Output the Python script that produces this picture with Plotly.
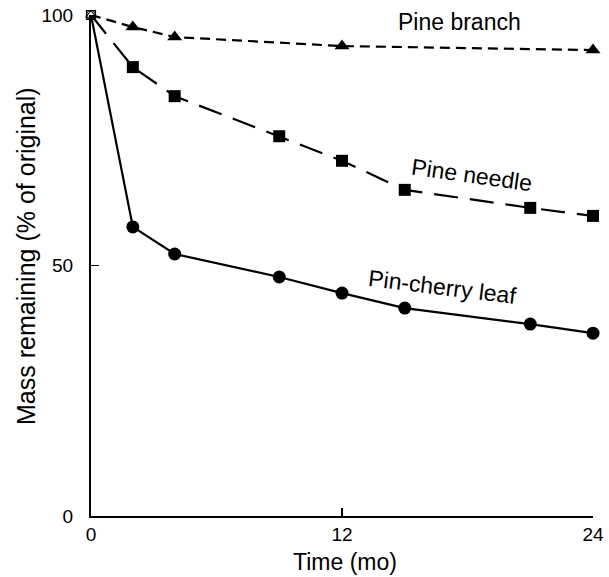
import plotly.graph_objects as go

# Data
branch_t = [0, 2, 4, 12, 24]
branch_m = [100, 97.6, 95.6, 93.8, 93.0]

needle_t = [0, 2, 4, 9, 12, 15, 21, 24]
needle_m = [100, 89.6, 83.8, 75.8, 70.9, 65.1, 61.5, 59.9]

cherry_t = [0, 2, 4, 9, 12, 15, 21, 24]
cherry_m = [100, 57.7, 52.3, 47.7, 44.5, 41.5, 38.3, 36.5]

x_ticks = [0, 12, 24]
y_ticks = [0, 50, 100]

x_title = "Time (mo)"
y_title = "Mass remaining (% of original)"

FONT = "Liberation Sans, Arial, Helvetica, sans-serif"

fig = go.Figure()

fig.add_trace(go.Scatter(
    x=branch_t[1:], y=branch_m[1:], mode="markers",
    marker=dict(symbol="triangle-up", size=13, color="black"),
    cliponaxis=False, showlegend=False))
fig.add_trace(go.Scatter(
    x=branch_t, y=branch_m, mode="lines",
    line=dict(color="black", width=2.2, dash="10px,6px"),
    cliponaxis=False, showlegend=False))

fig.add_trace(go.Scatter(
    x=needle_t, y=needle_m, mode="lines",
    line=dict(color="black", width=2.2, dash="24px,12px"),
    cliponaxis=False, showlegend=False))
fig.add_trace(go.Scatter(
    x=needle_t[1:], y=needle_m[1:], mode="markers",
    marker=dict(symbol="square", size=12, color="black"),
    cliponaxis=False, showlegend=False))

fig.add_trace(go.Scatter(
    x=cherry_t, y=cherry_m, mode="lines",
    line=dict(color="black", width=2.2),
    cliponaxis=False, showlegend=False))
fig.add_trace(go.Scatter(
    x=cherry_t[1:], y=cherry_m[1:], mode="markers",
    marker=dict(symbol="circle", size=13, color="black"),
    cliponaxis=False, showlegend=False))

# shared starting point (open symbols)
for sym in ["square-open", "circle-open", "triangle-up-open"]:
    fig.add_trace(go.Scatter(
        x=[cherry_t[0]], y=[cherry_m[0]], mode="markers",
        marker=dict(symbol=sym, size=9, color="black", line=dict(width=1.2)),
        cliponaxis=False, showlegend=False))

annots = [
    ("Pine branch", 17.6, 98.7, 0),
    ("Pine needle", 18.2, 68.0, 8),
    ("Pin-cherry leaf", 16.8, 45.7, 7),
]
for txt, ax, ay, ang in annots:
    fig.add_annotation(x=ax, y=ay, text=txt, showarrow=False, textangle=ang,
                       font=dict(family=FONT, size=23, color="black"))

# axis titles
fig.add_annotation(x=0.506, y=-0.092, xref="paper", yref="paper", text=x_title,
                   showarrow=False, xanchor="center", yanchor="middle",
                   font=dict(family=FONT, size=23, color="black"))
fig.add_annotation(x=-0.1295, y=0.519, xref="paper", yref="paper", text=y_title,
                   showarrow=False, xanchor="center", yanchor="middle", textangle=-90,
                   font=dict(family=FONT, size=25, color="black"))

fig.update_xaxes(range=[0, 24], tickvals=x_ticks, ticks="inside", ticklen=8,
                 tickwidth=1.5, tickcolor="black", showline=True, linecolor="black",
                 linewidth=2, showgrid=False, zeroline=False, automargin=False,
                 ticklabeloverflow="allow",
                 tickfont=dict(family=FONT, size=19, color="black"))
fig.update_yaxes(range=[0, 100], tickvals=y_ticks, ticks="inside", ticklen=8,
                 tickwidth=1.5, tickcolor="black", showline=True, linecolor="black",
                 linewidth=2, showgrid=False, zeroline=False, ticklabelstandoff=12,
                 automargin=False, ticklabeloverflow="allow",
                 tickfont=dict(family=FONT, size=19, color="black"))

fig.update_layout(width=609, height=577, margin=dict(l=91, r=16, t=15, b=61),
                  plot_bgcolor="white", paper_bgcolor="white", hovermode=False)

# remove the browser's default 8px body margin so the figure fills the window
fig.write_html("out.html", config={"displayModeBar": False, "staticPlot": True},
               post_script="document.body.style.margin='0';document.body.style.overflow='hidden';")
